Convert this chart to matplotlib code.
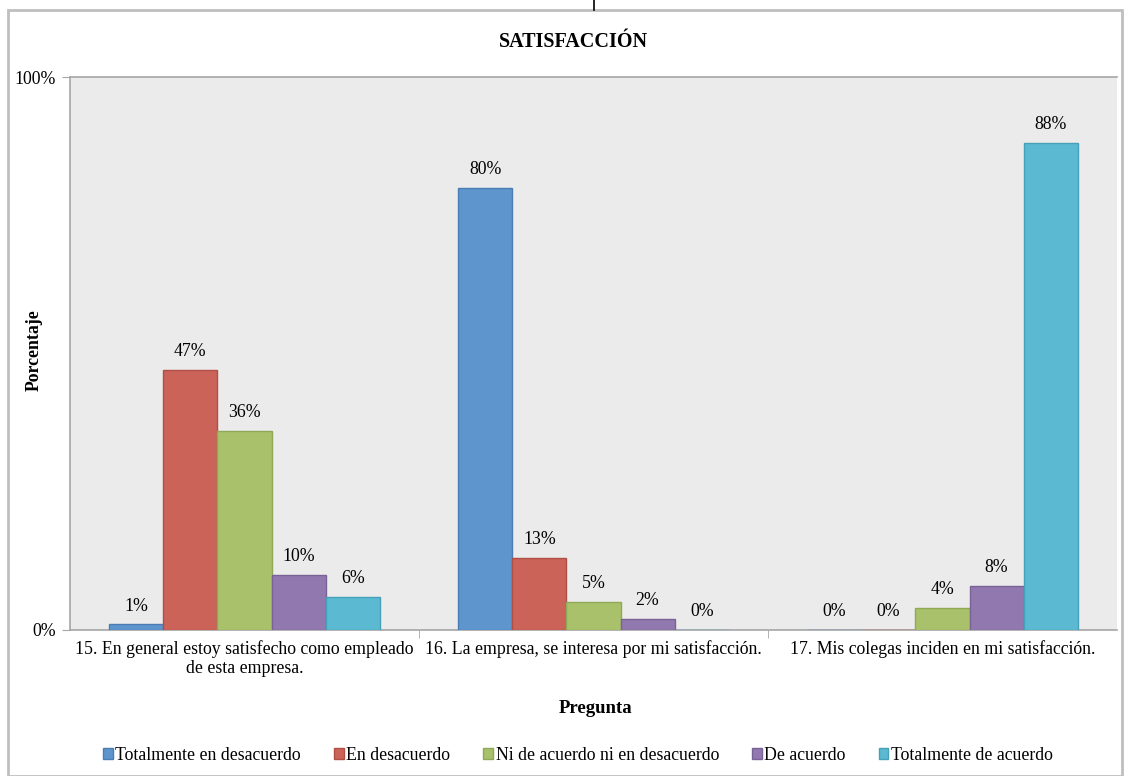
import matplotlib
matplotlib.use("Agg")
import matplotlib.pyplot as plt
import numpy as np
from matplotlib.patches import Rectangle
from matplotlib.lines import Line2D

categories = ["15. En general estoy satisfecho como empleado\nde esta empresa.",
              "16. La empresa, se interesa por mi satisfacción.",
              "17. Mis colegas inciden en mi satisfacción."]
series = ["Totalmente en desacuerdo", "En desacuerdo", "Ni de acuerdo ni en desacuerdo",
          "De acuerdo", "Totalmente de acuerdo"]
values = {
    "Totalmente en desacuerdo": [1, 80, 0],
    "En desacuerdo": [47, 13, 0],
    "Ni de acuerdo ni en desacuerdo": [36, 5, 4],
    "De acuerdo": [10, 2, 8],
    "Totalmente de acuerdo": [6, 0, 88],
}
colors = ["#5E95CC", "#CB6359", "#A9C16B", "#9179B0", "#5BB9D1"]
edges = ["#4A7DB3", "#B04F46", "#8FA855", "#786296", "#45A0B8"]

plt.rcParams['font.family'] = ['Liberation Serif', 'DejaVu Serif']
FS = 12.8

fig = plt.figure(figsize=(11.32, 7.76), dpi=100)
ax = fig.add_axes([70/1132, 1-630/776, (1117-70)/1132, (630-77)/776])
ax.set_facecolor("#EBEBEB")

x = np.arange(len(categories))
w = 0.155
for i, s in enumerate(series):
    vals = values[s]
    ax.bar(x + (i-2)*w, vals, width=w, color=colors[i], edgecolor=edges[i],
           linewidth=1.0, label=s, zorder=3)
    for xi, v in zip(x + (i-2)*w, vals):
        ax.text(xi, v + 1.8, f"{v}%", ha="center", va="bottom", fontsize=FS, zorder=4)

ax.set_xlim(-0.5, 2.5)
ax.set_ylim(0, 100)
ax.set_yticks([0, 100])
ax.set_yticklabels(["0%", "100%"], fontsize=FS)
ax.set_xticks(x)
ax.set_xticklabels(categories, fontsize=FS)
ax.tick_params(axis='x', length=0, pad=7)
ax.tick_params(axis='y', length=6, color="#A6A6A6", pad=4)
ax.set_xticks([0.5, 1.5], minor=True)
ax.tick_params(axis='x', which='minor', length=6, color="#A6A6A6", direction='out')
ax.spines["right"].set_visible(False)
for sp in ["left", "bottom", "top"]:
    ax.spines[sp].set_color("#A6A6A6")
    ax.spines[sp].set_linewidth(1.2)

ax.set_ylabel("Porcentaje", fontsize=FS, fontweight="bold")
ax.yaxis.set_label_coords((43-70)/1047, (630-350)/553)
ax.set_xlabel("Pregunta", fontsize=13.5, fontweight="bold")
ax.xaxis.set_label_coords((596-70)/1047, (630-700)/553)

fig.text(573/1132, 1-42/776, "SATISFACCIÓN", ha="center", va="center",
         fontsize=14.5, fontweight="bold")

fig.legend(loc="center", bbox_to_anchor=(578/1132, 1-755/776), ncol=5, frameon=False,
           fontsize=FS, handlelength=0.55, handleheight=0.55, handletextpad=0.15,
           columnspacing=1.85)

fig.patches.append(Rectangle((8/1132, 0), (1122-8)/1132, 1-10/776, transform=fig.transFigure,
                             fill=False, edgecolor="#BFBFBF", linewidth=2))
fig.lines.append(Line2D([594/1132, 594/1132], [1-10/776, 1.0], transform=fig.transFigure,
                        color="black", linewidth=1.2))

fig.savefig("out.png", dpi=100)
